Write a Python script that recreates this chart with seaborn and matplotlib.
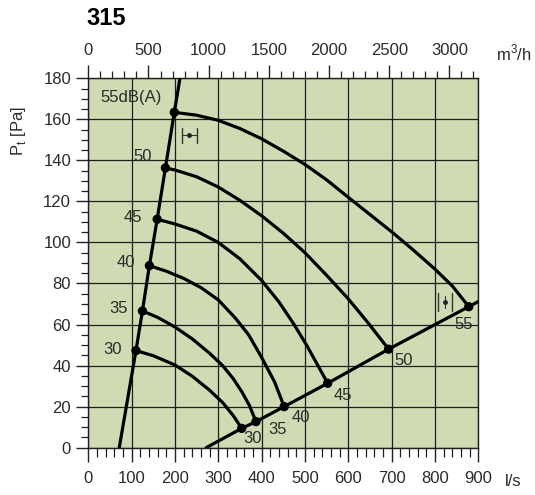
import matplotlib
matplotlib.use("Agg")
import matplotlib.pyplot as plt
import seaborn as sns
import pandas as pd
from matplotlib.ticker import MultipleLocator

# ---------------- data ----------------
title = "315"
x_label_unit = "l/s"
top_label_unit = "m$^3$/h"
y_label = "P$_\\mathregular{t}$ [Pa]"

x_ticks = [0, 100, 200, 300, 400, 500, 600, 700, 800, 900]
y_ticks = [0, 20, 40, 60, 80, 100, 120, 140, 160, 180]
top_ticks = [0, 500, 1000, 1500, 2000, 2500, 3000]

# sound-level curves (l/s, Pa)
c30_x = [110, 150, 200, 240, 280, 310, 335, 354]
c30_y = [47.3, 44.8, 40.3, 34.8, 28.0, 22.0, 15.5, 9.4]
c35_x = [125, 160, 200, 240, 280, 310, 335, 355, 372, 387]
c35_y = [66.6, 63.5, 58.8, 53.0, 46.0, 40.0, 33.5, 27.0, 20.5, 12.7]
c40_x = [141, 180, 220, 260, 300, 340, 370, 400, 430, 452]
c40_y = [88.7, 86.0, 82.5, 78.0, 72.0, 63.0, 55.0, 44.0, 32.0, 20.0]
c45_x = [159, 200, 250, 300, 350, 400, 440, 475, 505, 530, 552.5]
c45_y = [111.3, 109.0, 105.5, 100.0, 92.0, 81.5, 71.0, 60.0, 49.5, 40.0, 31.4]
c50_x = [178, 200, 250, 300, 350, 400, 450, 500, 550, 600, 645, 693]
c50_y = [136.3, 135.3, 132.0, 127.0, 120.5, 113.0, 104.5, 95.0, 84.0, 72.5, 61.0, 48.0]
c55_x = [198.5, 250, 300, 350, 400, 450, 500, 550, 600, 650, 700, 750, 800, 840, 878]
c55_y = [163.4, 162.0, 159.5, 155.5, 150.5, 144.5, 138.0, 130.5, 122.0, 113.6,
         105.2, 96.3, 87.0, 78.8, 68.7]

# operating-range boundary lines
left_x = [71.5, 110, 125, 141, 159, 178, 198.5, 211.6]
left_y = [0, 47.3, 66.6, 88.7, 111.3, 136.3, 163.4, 180]
right_x = [272, 354, 387, 452, 552.5, 693, 878, 900]
right_y = [0, 9.4, 12.7, 20.0, 31.4, 48.0, 68.7, 71.2]

# curve labels
left_labels = ["30", "35", "40", "45", "50", "55dB(A)"]
left_lab_x = [57, 69, 87, 103, 126, 27]
left_lab_y = [48, 68, 90.3, 112, 141.8, 170.5]
right_labels = ["30", "35", "40", "45", "50", "55"]
right_lab_x = [380, 437, 491, 586.6, 728.6, 867]
right_lab_y = [4.6, 8.9, 14.7, 25.4, 42.7, 59.8]

# ---------------- style ----------------
sns.set_theme(style="white")
plt.rcParams["font.family"] = ["Liberation Sans", "DejaVu Sans"]
plt.rcParams["mathtext.fontset"] = "custom"
plt.rcParams["mathtext.rm"] = "Liberation Sans"

bg = "#d0dbb4"
txt = "#2b2b2b"
fs = 12

fig = plt.figure(figsize=(5.35, 4.95), dpi=100)
ax = fig.add_axes([0.165, 0.0956, 0.729, 0.7463])
ax.set_facecolor(bg)

curves = [(c30_x, c30_y), (c35_x, c35_y), (c40_x, c40_y),
          (c45_x, c45_y), (c50_x, c50_y), (c55_x, c55_y)]
for cx, cy in curves:
    sns.lineplot(x=cx, y=cy, sort=False, estimator=None, color="black",
                 lw=2.3, ax=ax, zorder=4)
sns.lineplot(x=left_x, y=left_y, sort=False, estimator=None, color="black",
             lw=2.3, ax=ax, zorder=4)
sns.lineplot(x=right_x, y=right_y, sort=False, estimator=None, color="black",
             lw=2.3, ax=ax, zorder=4)

dots = pd.DataFrame({
    "x": [c[0][0] for c in curves] + [c[0][-1] for c in curves],
    "y": [c[1][0] for c in curves] + [c[1][-1] for c in curves],
})
sns.scatterplot(data=dots, x="x", y="y", color="black", s=45, ax=ax,
                zorder=5, edgecolor="none")

for t, lx, ly in zip(left_labels, left_lab_x, left_lab_y):
    ax.text(lx, ly, t, ha="left" if "dB" in t else "center", va="center",
            fontsize=fs, color=txt, zorder=6)
for t, lx, ly in zip(right_labels, right_lab_x, right_lab_y):
    ax.text(lx, ly, t, ha="center", va="center", fontsize=fs, color=txt,
            zorder=6)

# tolerance symbols
ax.plot([217, 217], [148.3, 155.7], color="#333", lw=1.0, zorder=6)
ax.plot([250, 250], [148.3, 155.7], color="#333", lw=1.0, zorder=6)
ax.plot([217, 250], [152.3, 152.3], color="#333", lw=0.8, zorder=6)
ax.plot([233], [152.3], "o", color="#222", ms=2.5, zorder=6)
ax.plot([808, 808], [66.5, 75.5], color="#333", lw=1.0, zorder=6)
ax.plot([839, 839], [66.5, 75.5], color="#333", lw=1.0, zorder=6)
ax.plot([823, 823], [68.0, 74.0], color="#333", lw=0.8, zorder=6)
ax.plot([823], [71.0], "o", color="#222", ms=2.5, zorder=6)

ax.set_xlim(0, 900)
ax.set_ylim(0, 180)
ax.set_xticks(x_ticks)
ax.set_yticks(y_ticks)
ax.xaxis.set_minor_locator(MultipleLocator(20))
ax.yaxis.set_minor_locator(MultipleLocator(5))
ax.grid(True, which="major", color="#1e1e1e", lw=0.9)
ax.set_axisbelow(True)
for s in ax.spines.values():
    s.set_visible(True)
    s.set_color("#1e1e1e")
    s.set_linewidth(1.0)

ax.tick_params(axis="x", which="major", direction="out", length=10, width=1,
               color="#222", pad=7, labelsize=fs, labelcolor=txt,
               bottom=True)
ax.tick_params(axis="x", which="minor", direction="out", length=6.5, width=0.9,
               color="#222", bottom=True)
ax.tick_params(axis="y", which="major", direction="out", length=8.4, width=1,
               color="#222", pad=4, labelsize=fs, labelcolor=txt, left=True)
ax.tick_params(axis="y", which="minor", direction="out", length=4.8, width=0.9,
               color="#222", left=True)
ax.set_xlabel("")
ax.set_ylabel("")

sec = ax.secondary_xaxis("top", functions=(lambda v: v * 3.6, lambda v: v / 3.6))
sec.set_xticks(top_ticks)
sec.xaxis.set_minor_locator(MultipleLocator(100))
sec.tick_params(axis="x", which="major", direction="out", length=9.5, width=1,
                color="#222", pad=5, labelsize=fs, labelcolor=txt)
sec.tick_params(axis="x", which="minor", direction="out", length=5, width=0.9,
                color="#222")
sec.spines["top"].set_visible(False)

fig.text(19 / 535, 1 - 131 / 495, y_label, fontsize=fs, color=txt,
         ha="center", va="center", rotation=90)
fig.text(513 / 535, 1 - 481 / 495, x_label_unit, fontsize=fs, color=txt,
         ha="center", va="center")
fig.text(514 / 535, 1 - 53 / 495, top_label_unit, fontsize=fs, color=txt,
         ha="center", va="center")
fig.text(86 / 535, 1 - 18.5 / 495, title, fontsize=17, fontweight="bold",
         color="black", ha="left", va="center")

fig.savefig("out.png", dpi=100)
